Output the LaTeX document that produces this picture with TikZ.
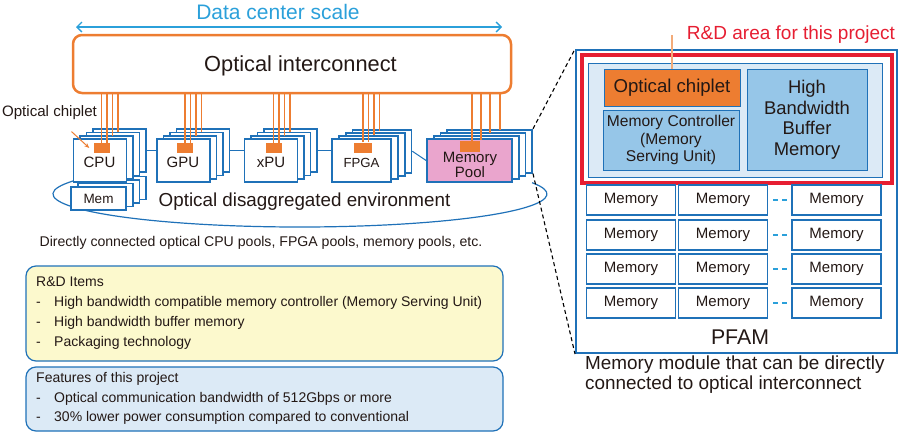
\documentclass[tikz,border=0pt]{standalone}
\usepackage{fontspec}
\setmainfont{Liberation Sans}
\usetikzlibrary{arrows.meta}
\definecolor{cardblue}{RGB}{31,113,184}
\definecolor{scaleblue}{RGB}{43,160,218}
\definecolor{fiberorange}{RGB}{237,125,49}
\definecolor{poolpink}{RGB}{234,165,205}
\definecolor{rdred}{RGB}{230,30,50}
\definecolor{itemyellow}{RGB}{252,249,205}
\definecolor{paleblue}{RGB}{220,234,246}
\definecolor{midblue}{RGB}{150,198,232}
\definecolor{inkdark}{RGB}{35,24,21}
\newcommand{\fs}[2]{\fontsize{#1}{#2}\selectfont}
\tikzset{
  card/.style={draw=cardblue, line width=1.8pt, fill=white, minimum width=53pt, minimum height=43pt, inner sep=0pt},
  chip/.style={fill=fiberorange, minimum width=16pt, minimum height=10pt, inner sep=0pt},
  fiber/.style={fiberorange, line width=1.6pt},
  link/.style={cardblue, line width=1pt},
  zoomline/.style={black, line width=1.1pt, dash pattern=on 4pt off 3pt},
  memcell/.style={draw=cardblue, line width=1.2pt, fill=white, minimum width=89pt, minimum height=30pt, inner sep=0pt, font=\fs{15}{18}},
  gap/.style={scaleblue, line width=1.2pt, dash pattern=on 5pt off 4pt, shorten <=5pt, shorten >=4.5pt},
  infobox/.style={draw=cardblue, line width=1.2pt, rounded corners=10pt, minimum width=477pt},
  every node/.append style={text=inkdark}
}

\begin{document}
\begin{tikzpicture}[x=1pt,y=-1pt]
\useasboundingbox (0,0) rectangle (900,432);
% data center scale
\node[text=scaleblue, font=\fs{21}{25}] (dcs) at (278,12) {Data center scale};
\coordinate (dcl) at (76,27);
\coordinate (dcr) at (502,27);
\draw[scaleblue, line width=1.4pt, {Straight Barb[length=5pt,width=10pt]}-{Straight Barb[length=5pt,width=10pt]}] (dcl) -- (dcr);

% optical interconnect
\node[draw=fiberorange, line width=2.5pt, rounded corners=9pt, minimum width=438pt, minimum height=58pt] (oi) at (292,64) {};
\node[font=\fs{21.8}{26}] (oitxt) at (300.5,66) {Optical interconnect};

% disaggregated environment
\draw[cardblue, line width=1.2pt] (300,194) ++(204:247 and 33) arc[start angle=204, end angle=-20, x radius=247, y radius=33];
\node[font=\fs{18.8}{22}] (envtxt) at (304.5,202) {Optical disaggregated environment};

% memory stack under the CPUs
\foreach \k in {3,2,1}
  \node[card, minimum width=55pt, minimum height=23pt] (mem\k) at (98.5+6.7*\k,198.5-3.5*\k) {};
\node[card, minimum width=55pt, minimum height=23pt, font=\fs{13.5}{16}] (mem) at (98.5,198.5) {Mem};

% CPU pool
\foreach \k in {3,2,1}
  \node[card] (cpu\k) at (100+6.5*\k,160.5-3.3*\k) {};
\node[card] (cpu) at (100,160.5) {};
\node[chip] (cpuchip) at (101.5,148) {};
\node[font=\fs{15}{18}] (cputxt) at (99.5,162.5) {CPU};

% GPU pool
\foreach \k in {3,2,1}
  \node[card] (gpu\k) at (183.5+6.5*\k,160.5-3.3*\k) {};
\node[card] (gpu) at (183.5,160.5) {};
\node[chip] (gpuchip) at (185,148) {};
\node[font=\fs{15}{18}] (gputxt) at (183,162.5) {GPU};

% xPU pool
\foreach \k in {3,2,1}
  \node[card] (xpu\k) at (271+6.5*\k,160.5-3.3*\k) {};
\node[card] (xpu) at (271,160.5) {};
\node[chip] (xpuchip) at (273.5,148) {};
\node[font=\fs{15}{18}] (xputxt) at (271,162.5) {xPU};

% FPGA pool
\foreach \k in {3,2,1}
  \node[card, minimum width=59pt] (fpga\k) at (361.5+6.8*\k,160.5-3.1*\k) {};
\node[card, minimum width=59pt] (fpga) at (361.5,160.5) {};
\node[chip, minimum width=18pt] (fpgachip) at (363,147.5) {};
\node[font=\fs{13.2}{16}] (fpgatxt) at (361.5,162.5) {FPGA};

% memory pool
\foreach \k in {3,2,1}
  \node[card, minimum width=85pt] (mp\k) at (469.5+6.7*\k,160.5-3.1*\k) {};
\node[card, minimum width=85pt, fill=poolpink] (mp) at (469.5,160.5) {};
\node[chip, minimum width=20pt, minimum height=11pt] (mpchip) at (470,146.5) {};
\node[font=\fs{15}{12.5}, align=center] (mptxt) at (470,164.5) {Memory\\Pool};

% links between the pools
\draw[link] (cpu3.east) -- (cpu3.east -| gpu.west);
\draw[link] (gpu3.east) -- (gpu3.east -| xpu.west);
\draw[link] (xpu3.east) -- (xpu3.east -| fpga.west);
\draw[link] (fpga3.east) -- (mp.west);

% fibers
\foreach \c in {cpu,gpu,xpu,fpga}
  \foreach \d/\u in {0pt/0pt,5.5pt/0pt,11pt/7pt,16.5pt/11pt}
    \draw[fiber] ([xshift=\d, yshift=\u]\c chip.north) coordinate (f) -- (f |- oi.south);
\foreach \d/\u in {2pt/0pt,11pt/1pt,20pt/8pt,30pt/11pt}
  \draw[fiber] ([xshift=\d, yshift=\u]mpchip.north) coordinate (f) -- (f |- oi.south);

% chiplet label
\node[font=\fs{15.1}{18}] (chiplbl) at (49.5,113) {Optical chiplet};
\draw[fiberorange, line width=1pt, -{Stealth[length=5pt,width=4pt]}] ([shift={(22pt,-8pt)}]chiplbl.south) -- ([xshift=-4pt]cpuchip.west);

% PFAM
\node[draw=cardblue, line width=2pt, fill=white, minimum width=321pt, minimum height=303pt, inner sep=0pt] (pfam) at (736.5,201.5) {};
\draw[zoomline] (mp3.north east) -- (pfam.north west);
\draw[zoomline] (mp3.south east) -- (pfam.south west);
\node[draw=rdred, line width=4pt, minimum width=310pt, minimum height=128pt] (rdarea) at (737,119) {};
\node[draw=cardblue, line width=1pt, fill=paleblue, minimum width=294pt, minimum height=114pt] (msu) at (735,120) {};
\node[draw=cardblue, line width=1pt, fill=fiberorange, minimum width=136pt, minimum height=37pt, font=\fs{18.6}{22}] (optchip) at (672,87.5) {Optical chiplet};
\node[draw=cardblue, line width=1pt, fill=midblue, minimum width=136pt, minimum height=60pt, align=center, font=\fs{15.6}{17.5}] (memctl) at (671,140) {Memory Controller\\(Memory\\Serving Unit)};
\node[draw=cardblue, line width=1pt, fill=midblue, minimum width=120pt, minimum height=101pt, align=center, font=\fs{18.4}{20.5}] (hbbm) at (807,119.5) {High\\Bandwidth\\Buffer\\Memory};
\coordinate (rdtop) at (672,35);
\draw[fiberorange!65, line width=1.6pt] (optchip.north) -- (rdtop);
\node[text=rdred, font=\fs{19}{22}] (rdtxt) at (791,35) {R\&D area for this project};
\foreach \r/\y in {1/200,2/235,3/269,4/303} {
  \node[memcell] (m\r-1) at (631,\y) {Memory};
  \node[memcell] (m\r-2) at (723,\y) {Memory};
  \node[memcell] (m\r-3) at (836.5,\y) {Memory};
  \draw[gap] (m\r-2.east) -- (m\r-3.west);
}
\node[font=\fs{21.3}{25}] (pfamtxt) at (740,337) {PFAM};
\node[font=\fs{18.9}{20}, align=left, anchor=west, inner sep=0pt] (pfamnote) at (585,375) {Memory module that can be directly\\connected to optical interconnect};

% pools note, R&D items, features
\node[font=\fs{14.1}{17}] (poolstxt) at (261,243) {Directly connected optical CPU pools, FPGA pools, memory pools, etc.};
\node[infobox, fill=itemyellow, minimum height=95pt] (rditems) at (264.5,313.5) {};
\node[font=\fs{14}{20}, align=left, anchor=west, inner sep=0pt] (rdlist) at (36,313) {R\&D Items\\
\makebox[18pt][l]{-}High bandwidth compatible memory controller (Memory Serving Unit)\\
\makebox[18pt][l]{-}High bandwidth buffer memory\\
\makebox[18pt][l]{-}Packaging technology};
\node[infobox, fill=paleblue, minimum height=64pt] (features) at (264.5,399) {};
\node[font=\fs{14}{19.5}, align=left, anchor=west, inner sep=0pt] (featlist) at (36,398.5) {Features of this project\\
\makebox[18pt][l]{-}Optical communication bandwidth of 512Gbps or more\\
\makebox[18pt][l]{-}30\% lower power consumption compared to conventional};
\end{tikzpicture}
\end{document}
